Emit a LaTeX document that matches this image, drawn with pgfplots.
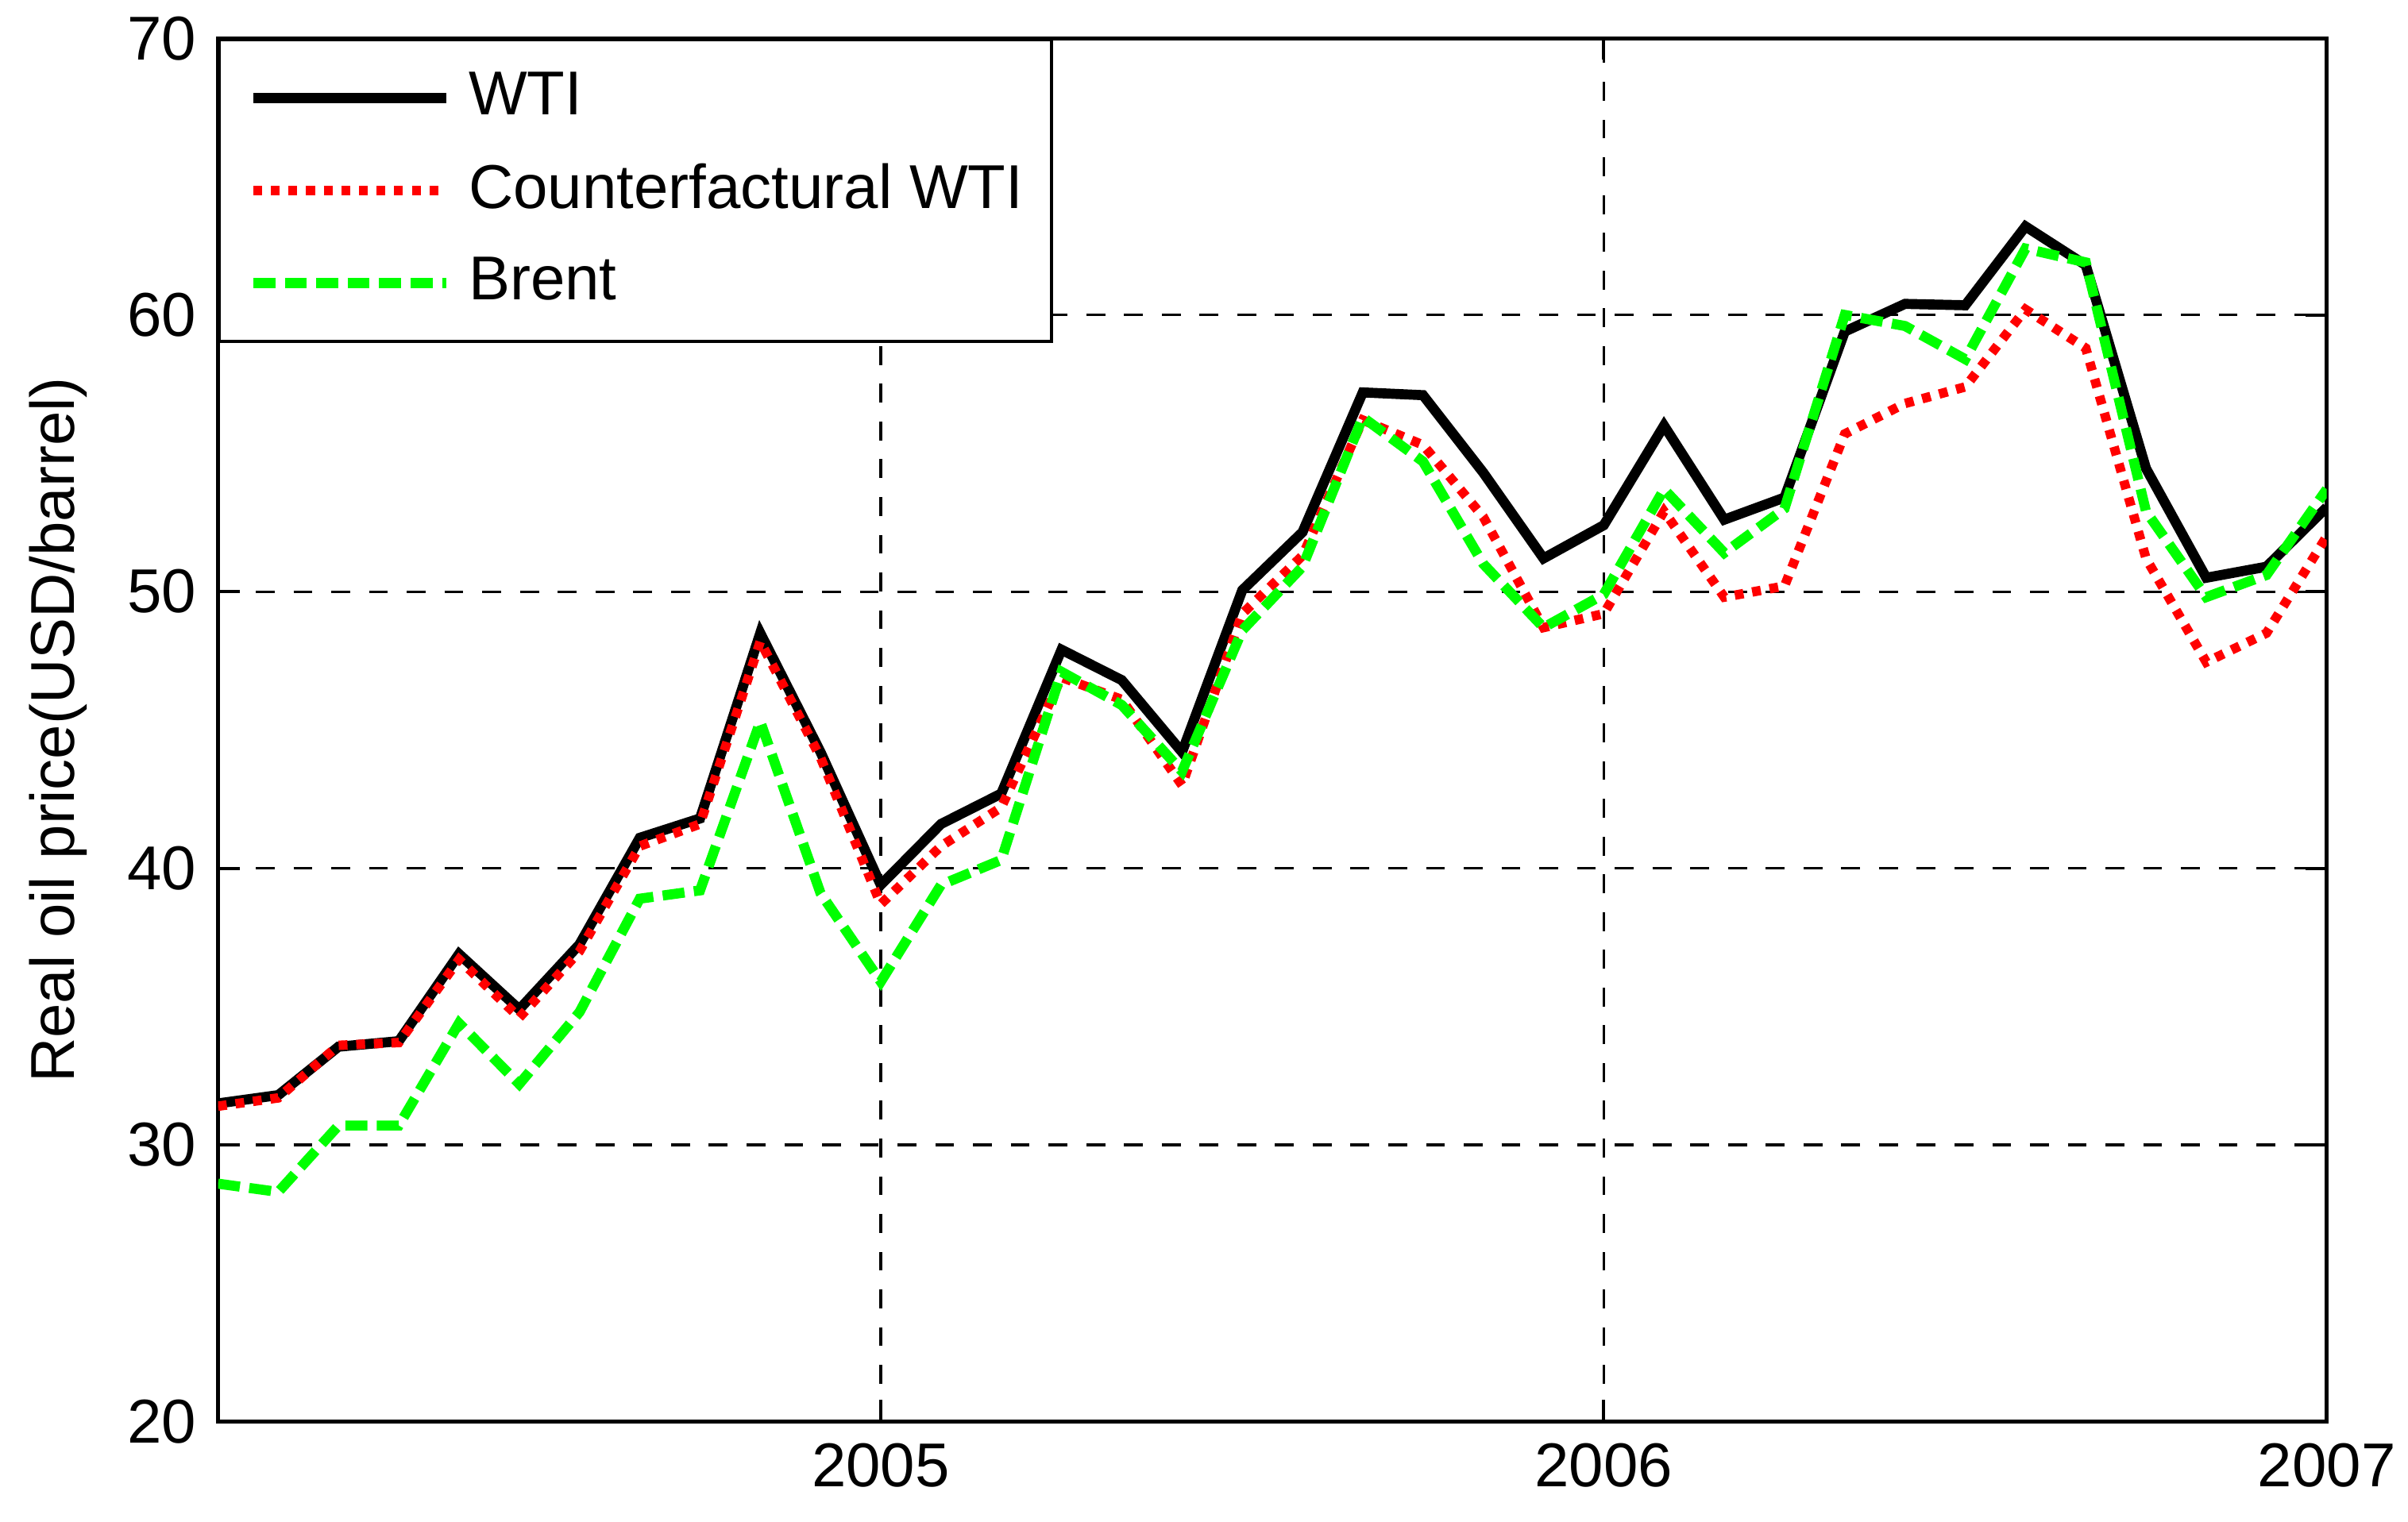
\documentclass[border=0pt]{standalone}
\usepackage{fontspec}
\setmainfont{Liberation Sans}
\usepackage{pgfplots}
\usepackage{pgfplotstable}
\pgfplotsset{compat=1.18}
\definecolor{brentgreen}{RGB}{0,255,0}
\definecolor{cfred}{RGB}{255,0,0}
\pgfplotstableread{
k WTI CF Brent
1 31.5 31.4 28.6
2 31.8 31.7 28.3
3 33.55 33.6 30.7
4 33.75 33.7 30.7
5 36.9 36.7 34.4
6 34.9 34.6 32.2
7 37.25 37.0 34.8
8 41.1 40.8 38.9
9 41.8 41.6 39.2
10 48.5 48.2 45.3
11 44.2 44.0 39.1
12 39.4 38.7 35.9
13 41.6 40.8 39.4
14 42.7 42.2 40.3
15 47.9 46.9 47.1
16 46.8 46.1 45.9
17 44.2 43.0 43.5
18 50.05 49.2 48.6
19 52.15 51.3 50.9
20 57.2 56.2 56.3
21 57.1 55.3 54.7
22 54.3 52.7 51.0
23 51.2 48.7 48.7
24 52.4 49.2 49.9
25 56.0 52.9 53.7
26 52.6 49.8 51.4
27 53.4 50.2 53.0
28 59.4 55.7 60.0
29 60.4 56.8 59.6
30 60.35 57.4 58.4
31 63.2 60.2 62.4
32 61.8 58.8 61.9
33 54.45 51.2 52.9
34 50.5 47.45 49.8
35 50.9 48.5 50.6
36 53.05 52.0 53.7
}\oil
\begin{document}
\fontsize{9.85pt}{11.8pt}\selectfont
\begin{tikzpicture}
\begin{axis}[
  scale only axis,
  width=11.78cm, height=7.73cm,
  xmin=1, xmax=36, ymin=20, ymax=70,
  xtick={12,24,36}, xticklabels={2005,2006,2007},
  ytick={20,30,40,50,60,70},
  /pgf/number format/assume math mode=true,
  grid=major,
  major grid style={black, line width=0.4pt, dash pattern=on 3pt off 3pt},
  tick align=inside, major tick length=0.12cm,
  tick style={black, line width=0.5pt},
  axis line style={black, line width=0.6pt},
  ylabel={Real oil price(USD/barrel)},
  ylabel style={at={(axis description cs:-0.0759,0.5)}, anchor=center},
  legend style={at={(0,1)}, anchor=north west, draw=black, line width=0.5pt, fill=white,
    inner xsep=0.16cm, inner ysep=0.11cm, row sep=0.08cm, column sep=0.095cm,
    nodes={inner xsep=0pt},
    cells={anchor=west}},
  legend image code/.code={\draw[#1] (0cm,0cm) -- (1.08cm,0cm);},
]
\addplot[black, line width=1.6pt, solid] table[x=k, y=WTI] {\oil};
\addlegendentry{WTI}
\addplot[cfred, line width=1.5pt, dash pattern=on 1.4pt off 1.4pt] table[x=k, y=CF] {\oil};
\addlegendentry{Counterfactural WTI}
\addplot[brentgreen, line width=1.6pt, dash pattern=on 3.5pt off 1.5pt] table[x=k, y=Brent] {\oil};
\addlegendentry{Brent}
\end{axis}
\pgfresetboundingbox
\path[use as bounding box] ([xshift=-1.218cm,yshift=-0.561cm]current axis.south west) rectangle ([xshift=0.454cm,yshift=0.214cm]current axis.north east);
\end{tikzpicture}
\end{document}
